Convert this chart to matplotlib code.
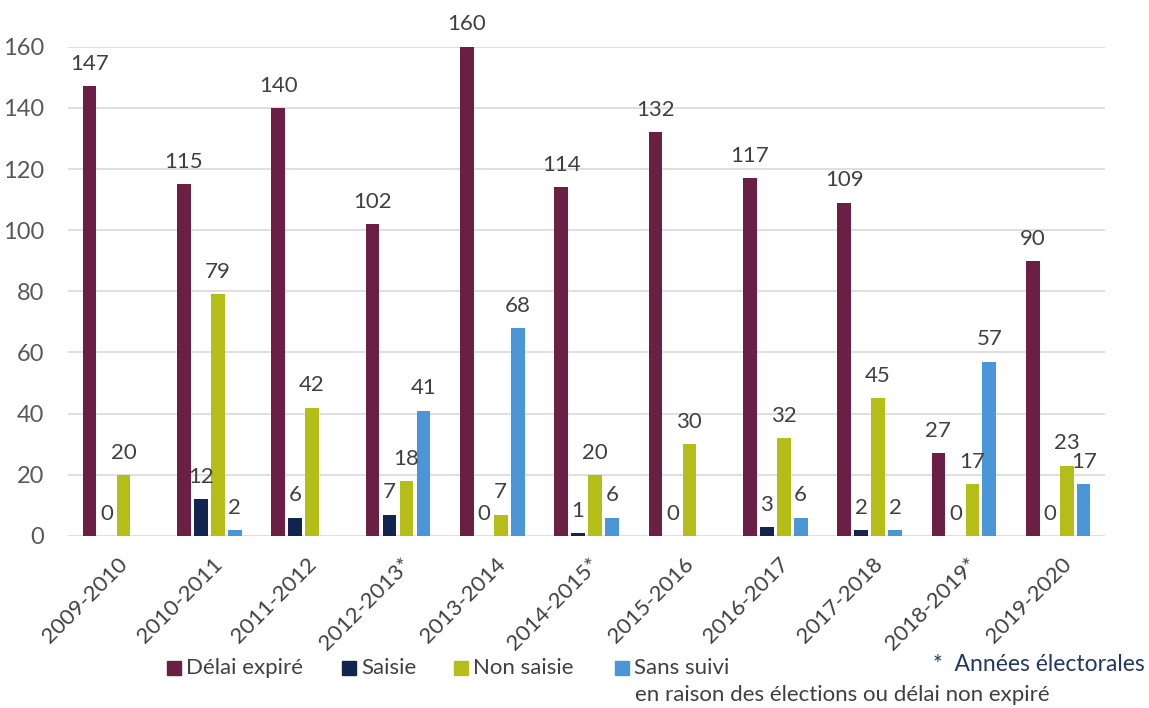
import numpy as np
import matplotlib
matplotlib.use("Agg")
import matplotlib.pyplot as plt
from matplotlib.patches import Rectangle

# Données (None = pas de barre / pas d'étiquette)
annees = ["2009-2010", "2010-2011", "2011-2012", "2012-2013*", "2013-2014",
          "2014-2015*", "2015-2016", "2016-2017", "2017-2018", "2018-2019*",
          "2019-2020"]
delai_expire = [147, 115, 140, 102, 160, 114, 132, 117, 109, 27, 90]
saisie = [0, 12, 6, 7, 0, 1, 0, 3, 2, 0, 0]
non_saisie = [20, 79, 42, 18, 7, 20, 30, 32, 45, 17, 23]
sans_suivi = [None, 2, None, 41, 68, 6, None, 6, 2, 57, 17]

series = [
    ("Délai expiré", delai_expire, "#6b1f44"),
    ("Saisie", saisie, "#12254f"),
    ("Non saisie", non_saisie, "#b5bd17"),
    ("Sans suivi", sans_suivi, "#4a96d6"),
]

plt.rcParams["font.family"] = ["Lato", "DejaVu Sans"]
gris = "#404040"

fig = plt.figure(figsize=(11.49, 7.08), dpi=100)
ax = fig.add_axes([0.059, 0.243, 0.903, 0.691])

x = np.arange(len(annees))
pas = 0.18
largeur = 0.145
for i, (nom, valeurs, couleur) in enumerate(series):
    pos = x + (i - 1.5) * pas
    v = np.array([np.nan if val is None else val for val in valeurs], dtype=float)
    ax.bar(pos, np.nan_to_num(v), width=largeur, color=couleur, label=nom, zorder=3)
    for p, val in zip(pos, valeurs):
        if val is None:
            continue
        ax.text(p, val + 4, str(val), ha="center", va="bottom", fontsize=16,
                color=gris, clip_on=False, zorder=4)

ax.set_xlim(-0.5, len(annees) - 0.5)
ax.set_ylim(0, 160)
ax.set_yticks(range(0, 161, 20))
ax.yaxis.grid(True, color="#d9d9d9", linewidth=1.2, zorder=0)
for s in ax.spines.values():
    s.set_visible(False)
ax.tick_params(axis="y", length=0, labelsize=17, labelcolor="#595959", pad=17)
ax.tick_params(axis="x", length=0, labelsize=16, labelcolor=gris, pad=13)
ax.set_xticks(x + 0.03)
ax.set_xticklabels(annees, rotation=45, ha="right", rotation_mode="anchor")

# légende dessinée à la main (positions comme dans l'original)
leg_x = [0.1453, 0.2977, 0.3951, 0.5352]
for (nom, _, couleur), lx in zip(series, leg_x):
    fig.add_artist(Rectangle((lx, 0.047), 0.0122, 0.0195, color=couleur,
                             transform=fig.transFigure))
    fig.text(lx + 0.0165, 0.056, nom, fontsize=16, color=gris,
             ha="left", va="center")

fig.text(0.553, 0.018, "en raison des élections ou délai non expiré",
         fontsize=16, color=gris, ha="left", va="center")
fig.text(0.812, 0.061, "*  Années électorales", fontsize=16.5, color="#1f3864",
         ha="left", va="center")

fig.savefig("out.png", dpi=100)
